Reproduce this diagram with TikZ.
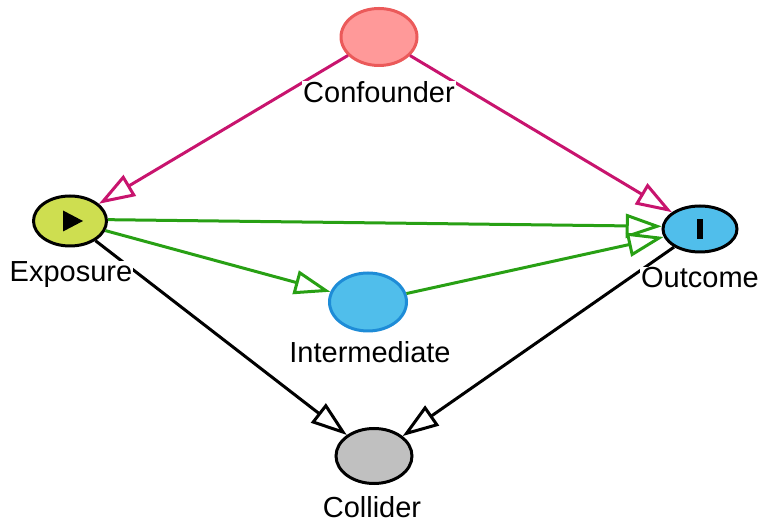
\documentclass[tikz,border=0pt]{standalone}
\usepackage{fontspec}
\setmainfont{Liberation Sans}
\usetikzlibrary{arrows.meta,shapes.geometric}
\definecolor{cmag}{RGB}{200,20,110}
\definecolor{cgreen}{RGB}{40,160,20}
\definecolor{confill}{RGB}{255,153,153}
\definecolor{condraw}{RGB}{235,90,90}
\definecolor{expfill}{RGB}{206,222,80}
\definecolor{bluefill}{RGB}{80,190,235}
\definecolor{bluedraw}{RGB}{30,140,215}
\definecolor{colfill}{RGB}{192,192,192}
\begin{document}
\begin{tikzpicture}[x=1pt,y=1pt,
  var/.style={ellipse,inner sep=0pt,line width=3pt},
  lbl/.style={anchor=base,fill=white,inner sep=1pt,font=\fontsize{29}{32}\selectfont},
  conn/.style={line width=3pt,-{Triangle[open,length=36pt 0,width=24pt 0,fill=white]}},
]
\useasboundingbox (0,0) rectangle (762,524);
\node[var,fill=confill,draw=condraw,minimum width=76pt,minimum height=57pt] (conf) at (379,487) {};
\node[var,fill=expfill,draw=black,minimum width=73pt,minimum height=50pt] (exp) at (70,303) {};
\node[var,fill=bluefill,draw=black,minimum width=74pt,minimum height=46pt] (out) at (700,295) {};
\node[var,fill=bluefill,draw=bluedraw,minimum width=77pt,minimum height=58pt] (int) at (368,222) {};
\node[var,fill=colfill,draw=black,minimum width=76pt,minimum height=55pt] (col) at (374,68) {};
\fill ([shift={(-7,-10.5)}]exp.center) -- ++(0,21) -- ++(20,-10.5) -- cycle;
\fill ([shift={(-3,-10)}]out.center) rectangle ++(6,20);
\draw[conn,cmag] (conf) -- (exp);
\draw[conn,cmag] (conf) -- (out);
\draw[conn,cgreen] (exp.2) -- (out.176);
\draw[conn,cgreen] (exp) -- (int);
\draw[conn,cgreen] (int) -- (out);
\draw[conn,black] (exp) -- (col);
\draw[conn,black] (out) -- (col);
\node[lbl] (confl) at (379,421) {Confounder};
\node[lbl] (expl) at (71,242) {Exposure};
\node[lbl] (outl) at (700,236) {Outcome};
\node[lbl] (intl) at (370,161) {Intermediate};
\node[lbl] (coll) at (372,6) {Collider};
\end{tikzpicture}
\end{document}
